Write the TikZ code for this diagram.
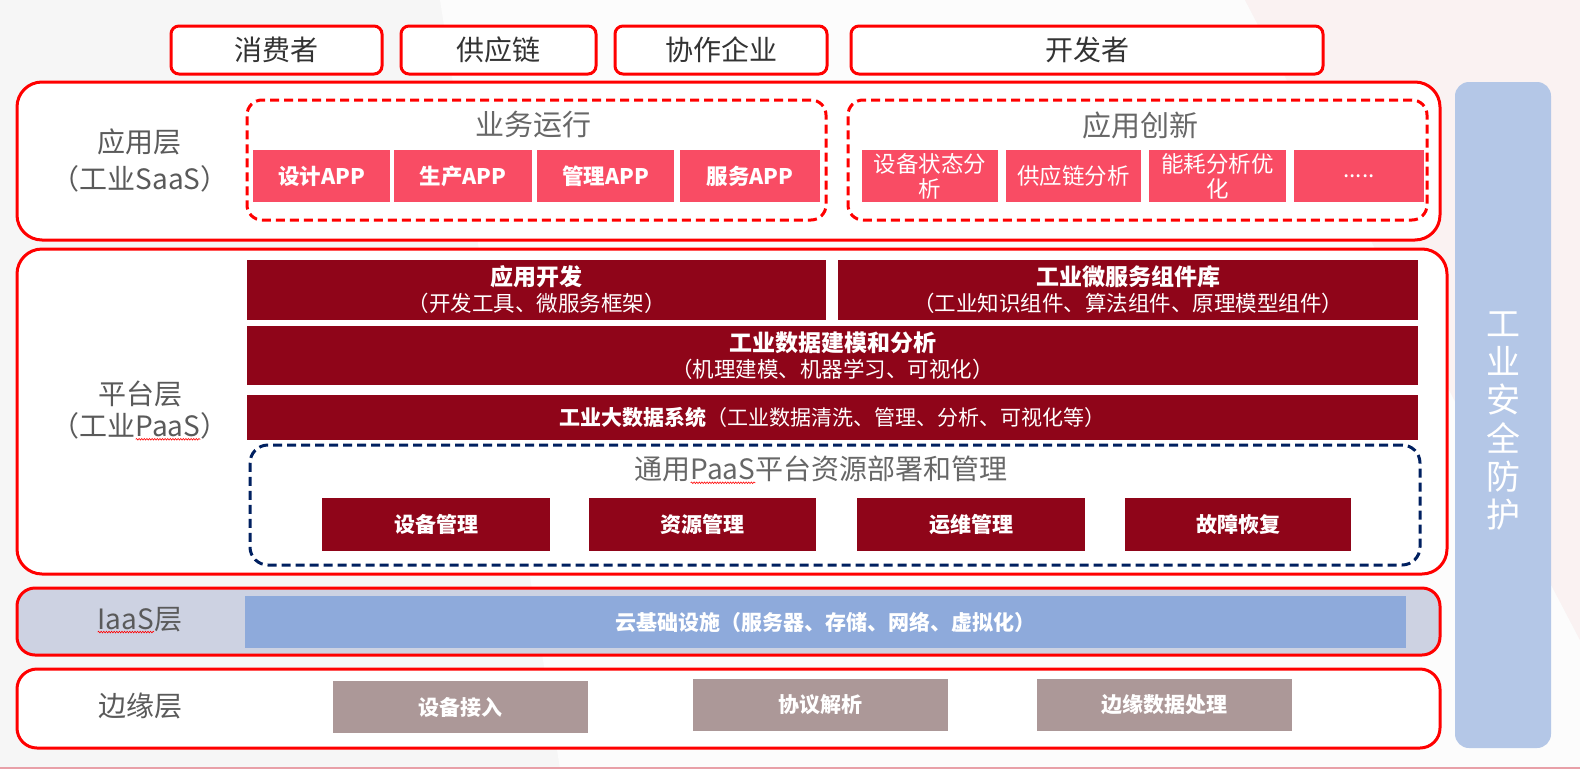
\documentclass[tikz,border=0pt]{standalone}
\usepackage{fontspec}
\setmainfont{Noto Sans CJK SC}
\usetikzlibrary{decorations.pathmorphing}
\definecolor{appred}{HTML}{F94C64}
\definecolor{darkred}{HTML}{8F0519}
\definecolor{taupe}{HTML}{AC9898}
\definecolor{iaasblue}{HTML}{8EAADB}
\definecolor{barblue}{HTML}{B4C7E7}
\definecolor{iaasfill}{HTML}{CDD2E2}
\definecolor{navy}{HTML}{002060}
\definecolor{lblgray}{HTML}{5A5A5A}
\definecolor{ttlgray}{HTML}{676767}
\definecolor{txtdark}{HTML}{333333}
\newcommand{\myfs}[2]{\fontsize{#1}{#2}\selectfont}
\newcommand{\wavy}[1]{\tikz[baseline=(W.base)]{\node[inner sep=0pt,outer sep=0pt](W){#1};\draw[red,line width=0.6pt,decorate,decoration={snake,amplitude=0.8pt,segment length=2.6pt}]([yshift=-3pt]W.base west)--([yshift=-3pt]W.base east);}}
\tikzset{
  topbox/.style={draw=red, line width=3pt, rounded corners=8pt, fill=white, minimum height=48pt, inner sep=0pt, text=txtdark, font=\myfs{28}{32}},
  layerbox/.style={draw=red, line width=3pt, rounded corners=25pt, fill=white},
  dashbox/.style={draw=red, line width=3pt, dash pattern=on 9pt off 5pt, rounded corners=15pt},
  navybox/.style={draw=navy, line width=3pt, dash pattern=on 9pt off 5pt, rounded corners=18pt},
  lbl/.style={text=lblgray, align=center, inner sep=0pt, font=\myfs{28}{37}},
  ttl/.style={text=ttlgray, inner sep=0pt, font=\myfs{29}{32}},
  appbox/.style={fill=appred, text=white, inner sep=0pt, minimum height=52pt, align=center, font=\bfseries\myfs{21.5}{24}},
  innobox/.style={fill=appred, text=white, inner sep=0pt, minimum height=52pt, align=center, font=\myfs{22.5}{25}},
  dkbox/.style={fill=darkred, text=white, inner sep=0pt, align=center, font=\myfs{21.5}{26}},
  dkhead/.style={font=\bfseries\myfs{23}{26}},
  subbox/.style={fill=darkred, text=white, inner sep=0pt, minimum height=53pt, minimum width=227pt, font=\bfseries\myfs{21}{24}},
  edgebox/.style={fill=taupe, text=white, inner sep=0pt, minimum height=52pt, minimum width=255pt, font=\bfseries\myfs{21}{24}},
}
\begin{document}
\begin{tikzpicture}[x=1pt,y=-1pt]
\useasboundingbox (0,0) rectangle (1580,769);
% background
\fill[fill={rgb,255:red,246;green,246;blue,246}] (0,0) rectangle (1580,769);
\fill[fill={rgb,255:red,252;green,252;blue,252}] (440,0) -- (1245,0) -- (1580,640) -- (1580,769) -- (560,769) -- cycle;
\fill[fill={rgb,255:red,250;green,242;blue,242}] (1245,0) -- (1580,0) -- (1580,640) -- cycle;
\draw[line width=2pt, draw={rgb,255:red,232;green,160;blue,168}] (0,767.5) -- (1580,767.5);

% top boxes
\node[topbox, minimum width=211pt] (consumer) at (276.5,50) {消费者};
\node[topbox, minimum width=195pt] (supply) at (498.5,50) {供应链};
\node[topbox, minimum width=212pt] (collab) at (721,50) {协作企业};
\node[topbox, minimum width=472pt] (developer) at (1087,50) {开发者};

% layer boxes
\node[layerbox, minimum width=1423pt, minimum height=158pt] (applayer) at (728.5,161) {};
\node[layerbox, minimum width=1430pt, minimum height=325pt] (platlayer) at (732,411.5) {};
\node[layerbox, rounded corners=18pt, fill=iaasfill, minimum width=1423pt, minimum height=67pt] (iaaslayer) at (728.5,621.5) {};
\node[layerbox, rounded corners=20pt, minimum width=1423pt, minimum height=79pt] (edgelayer) at (728.5,708.5) {};

% right bar
\node[fill=barblue, rounded corners=14pt, minimum width=96pt, minimum height=666pt, inner sep=0pt] (secbar) at (1503,415) {};
\node[text=white, align=center, inner sep=0pt, font=\myfs{34}{38.2}] (sectext) at (1503,421) {工\\业\\安\\全\\防\\护};

% labels
\node[lbl] (applbl) at (140,160.5) {应用层\\（工业SaaS）};
\node[lbl, font=\myfs{28}{32}] (platlbl) at (140,410.5) {平台层\\（工业\wavy{PaaS}）};
\node[lbl] (iaaslbl) at (140,620) {\wavy{IaaS}层};
\node[lbl] (edgelbl) at (140,706) {边缘层};

% application layer
\node[ttl] (bizttl) at (533,125) {业务运行};
\node[appbox, minimum width=137pt] (app1) at (321.5,176) {设计APP};
\node[appbox, minimum width=138pt] (app2) at (463,176) {生产APP};
\node[appbox, minimum width=137pt] (app3) at (605.5,176) {管理APP};
\node[appbox, minimum width=140pt] (app4) at (750,176) {服务APP};
\node[dashbox, minimum width=579pt, minimum height=120pt] (bizbox) at (536.5,160) {};

\node[ttl] (innottl) at (1140,125) {应用创新};
\node[innobox, minimum width=136pt] (inno1) at (930,176) {设备状态分\\析};
\node[innobox, minimum width=135pt] (inno2) at (1073.5,176) {供应链分析};
\node[innobox, minimum width=137pt] (inno3) at (1217.5,176) {能耗分析优\\化};
\node[innobox, minimum width=130pt] (inno4) at (1359,176) {.....};
\node[dashbox, minimum width=579pt, minimum height=120pt] (innobox) at (1137.5,160) {};

% platform layer
\node[dkbox, minimum width=579pt, minimum height=60pt] (appdev) at (536.5,290) {{\tikzset{}\bfseries\myfs{23}{26}应用开发}\\（开发工具、微服务框架）};
\node[dkbox, minimum width=580pt, minimum height=60pt] (micro) at (1128,290) {{\bfseries\myfs{23}{26}工业微服务组件库}\\（工业知识组件、算法组件、原理模型组件）};
\node[dkbox, minimum width=1171pt, minimum height=59pt] (model) at (832.5,355.5) {{\bfseries\myfs{23}{26}工业数据建模和分析}\\（机理建模、机器学习、可视化）};
\node[dkbox, font=\myfs{21}{26}, minimum width=1171pt, minimum height=45pt] (bigdata) at (832.5,417.5) {\textbf{工业大数据系统}（工业数据清洗、管理、分析、可视化等）};
\node[navybox, minimum width=1170pt, minimum height=120pt] (paasbox) at (835,505) {};
\node[ttl, font=\myfs{28}{30}] (paasttl) at (821,470) {通用\wavy{PaaS}平台资源部署和管理};
\node[subbox, minimum width=228pt] (sub1) at (436,524.5) {设备管理};
\node[subbox] (sub2) at (702.5,524.5) {资源管理};
\node[subbox, minimum width=228pt] (sub3) at (971,524.5) {运维管理};
\node[subbox, minimum width=226pt] (sub4) at (1238,524.5) {故障恢复};

% iaas layer
\node[fill=iaasblue, text=white, inner sep=0pt, minimum width=1161pt, minimum height=52pt, font=\bfseries\myfs{21}{24}] (cloud) at (825.5,622) {云基础设施（服务器、存储、网络、虚拟化）};

% edge layer
\node[edgebox] (edge1) at (460.5,707) {设备接入};
\node[edgebox] (edge2) at (820.5,705) {协议解析};
\node[edgebox] (edge3) at (1164.5,705) {边缘数据处理};
\end{tikzpicture}
\end{document}
